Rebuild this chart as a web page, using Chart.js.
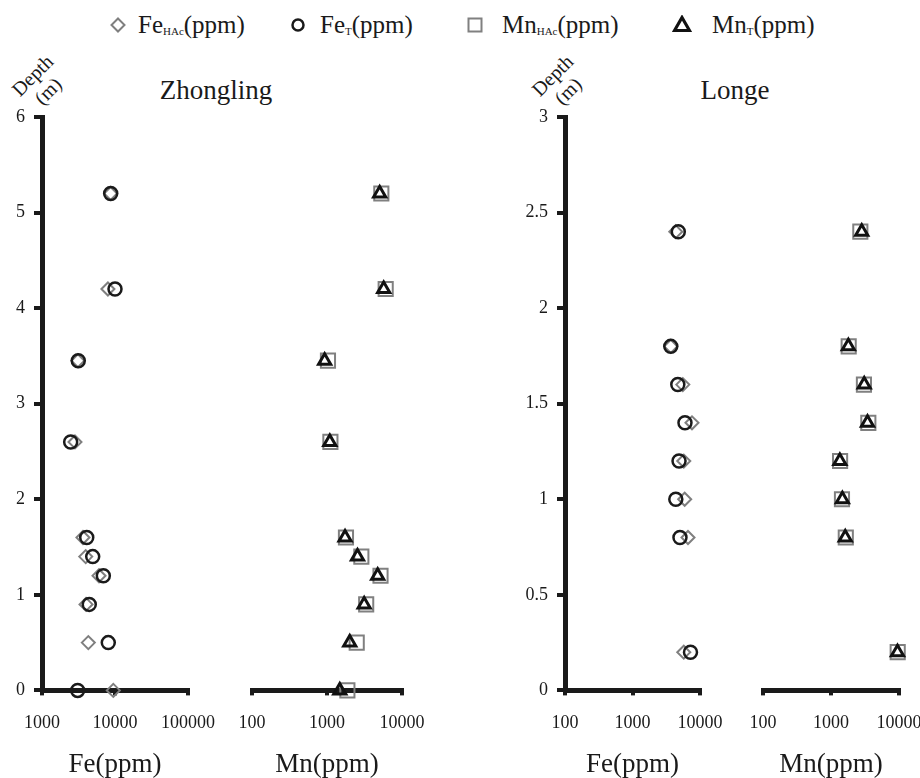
<!DOCTYPE html>
<html>
<head>
<meta charset="utf-8">
<script src="https://cdn.jsdelivr.net/npm/chart.js"></script>
<style>
  html, body { margin: 0; padding: 0; background: #fff; overflow: hidden; }
  body { width: 920px; height: 778px; position: relative; font-family: "Liberation Serif", "Times New Roman", serif; color: #1a1a1a; }
  canvas { position: absolute; top: 0; }
  .lg { position: absolute; top: 12px; font-size: 25px; line-height: 25px; white-space: nowrap; }
  .lg sub { font-size: 11px; vertical-align: -2px; line-height: 0; }
  .mk { position: absolute; }
  .site { position: absolute; top: 77px; font-size: 27px; line-height: 27px; transform: translateX(-50%); white-space: nowrap; }
  .depth { position: absolute; font-size: 20px; line-height: 22px; text-align: center; white-space: nowrap;
           transform: translate(-50%, -50%) rotate(-45deg); }
</style>
</head>
<body>

<!-- legend -->
<svg class="mk" style="left:110px;top:17px" width="16" height="16"><path d="M8 1.5 L14.5 8 L8 14.5 L1.5 8 Z" fill="none" stroke="#7f7f7f" stroke-width="2"/></svg>
<div class="lg" style="left:138px">Fe<sub>HAc</sub>(ppm)</div>
<svg class="mk" style="left:290px;top:17px" width="16" height="16"><circle cx="8" cy="8" r="5.5" fill="none" stroke="#1a1a1a" stroke-width="2.5"/></svg>
<div class="lg" style="left:320px">Fe<sub>T</sub>(ppm)</div>
<svg class="mk" style="left:467px;top:17px" width="16" height="16"><rect x="1.5" y="1.5" width="13" height="13" fill="none" stroke="#808080" stroke-width="2"/></svg>
<div class="lg" style="left:502px">Mn<sub>HAc</sub>(ppm)</div>
<svg class="mk" style="left:672px;top:15px" width="20" height="18"><path d="M10 2.5 L17.5 15.5 L2.5 15.5 Z" fill="none" stroke="#111" stroke-width="3.2"/></svg>
<div class="lg" style="left:712px">Mn<sub>T</sub>(ppm)</div>

<div class="site" style="left:216px">Zhongling</div>
<div class="site" style="left:735px">Longe</div>
<div class="depth" style="left:40px;top:83px">Depth<br>(m)</div>
<div class="depth" style="left:560px;top:83px">Depth<br>(m)</div>

<canvas id="zhFe" width="220" height="778" style="left:0px"></canvas>
<canvas id="zhMn" width="215" height="778" style="left:215px"></canvas>
<canvas id="loFe" width="225" height="778" style="left:505px"></canvas>
<canvas id="loMn" width="200" height="778" style="left:730px"></canvas>

<script>
// Zhongling profile
var zhDepth = [5.2, 4.2, 3.45, 2.6, 1.6, 1.4, 1.2, 0.9, 0.5, 0];
var zhFeHAc = [8700, 8000, 3100, 2830, 3640, 3970, 6040, 4010, 4310, 9480];
var zhFeT   = [8730, 10000, 3140, 2470, 4100, 4950, 6920, 4440, 8090, 3080];
var zhMnHAc = [5300, 6060, 1030, 1110, 1790, 2870, 5170, 3330, 2490, 1870];
var zhMnT   = [5040, 5700, 930, 1090, 1740, 2550, 4740, 3130, 2010, 1480];

// Longe profile
var loDepth = [2.4, 1.8, 1.6, 1.4, 1.2, 1.0, 0.8, 0.2];
var loFeHAc = [4380, 3690, 5560, 7610, 5750, 5930, 6640, 5750];
var loFeT   = [4770, 3690, 4690, 5990, 4890, 4380, 5050, 7230];
var loMnHAc = [2700, 1820, 3050, 3540, 1360, 1450, 1650, 9570];
var loMnT   = [2830, 1800, 3080, 3440, 1350, 1470, 1620, 9500];

// axis ticks
var zhFeTicks = [1000, 10000, 100000];
var zhMnTicks = [100, 1000, 10000];
var loFeTicks = [100, 1000, 10000];
var loMnTicks = [100, 1000, 10000];
var zhDepthTicks = [0, 1, 2, 3, 4, 5, 6];
var loDepthTicks = [0, 0.5, 1, 1.5, 2, 2.5, 3];

var ink = '#1a1a1a';
var serif = '"Liberation Serif", "Times New Roman", serif';
Chart.defaults.font.family = serif;

function pts(xs, ys) {
  return xs.map(function(x, i) { return {x: x, y: ys[i]}; });
}

var marks = {
  circle:   {pointStyle: 'circle',   pointRadius: 6.5, pointBorderColor: ink,       pointBorderWidth: 2.5},
  diamond:  {pointStyle: 'rectRot',  pointRadius: 6.5, pointBorderColor: '#7f7f7f', pointBorderWidth: 2},
  triangle: {pointStyle: 'triangle', pointRadius: 7,   pointBorderColor: '#111',    pointBorderWidth: 3},
  square:   {pointStyle: 'rect',     pointRadius: 10,  pointBorderColor: '#808080', pointBorderWidth: 2}
};

function set(label, xs, ys, mark) {
  var m = marks[mark];
  return {
    label: label, data: pts(xs, ys), showLine: false, clip: false,
    pointStyle: m.pointStyle, pointRadius: m.pointRadius,
    pointBorderColor: m.pointBorderColor, pointBorderWidth: m.pointBorderWidth,
    pointBackgroundColor: 'rgba(0,0,0,0)'
  };
}

function panel(id, o) {
  var ctx = document.getElementById(id).getContext('2d');
  return new Chart(ctx, {
    type: 'scatter',
    data: {datasets: o.sets},
    options: {
      responsive: false,
      animation: false,
      events: [],
      layout: {padding: {top: 117, left: o.padLeft, right: o.padRight, bottom: 0}},
      plugins: {legend: {display: false}, tooltip: {enabled: false}},
      scales: {
        x: {
          type: 'logarithmic', min: o.xTicks[0], max: o.xTicks[o.xTicks.length - 1],
          afterBuildTicks: function(s) { s.ticks = o.xTicks.map(function(v) { return {value: v}; }); },
          // the canvas padding already leaves room for the end labels
          afterFit: function(s) { s.paddingLeft = 0; s.paddingRight = 0; },
          ticks: {font: {size: 18, lineHeight: 1.2}, color: ink, padding: 17, autoSkip: false, maxRotation: 0,
                  callback: function(v) { return String(v); }},
          grid: {drawOnChartArea: false, tickLength: 5, tickWidth: 4, tickColor: ink, lineWidth: 4, color: ink},
          border: {width: 5, color: ink},
          title: {display: true, text: o.xTitle, font: {size: 27, lineHeight: 1}, color: ink, padding: 0}
        },
        y: {
          type: 'linear', min: 0, max: o.yTicks[o.yTicks.length - 1], display: o.showY,
          afterBuildTicks: function(s) { s.ticks = o.yTicks.map(function(v) { return {value: v}; }); },
          afterFit: function(s) { s.width = o.yWidth; },
          ticks: {font: {size: 18}, color: ink, padding: 9, callback: function(v) { return String(v); }},
          grid: {drawOnChartArea: false, tickLength: 8, tickWidth: 4, tickColor: ink, lineWidth: 4, color: ink},
          border: {width: 5, color: ink}
        }
      }
    }
  });
}

// circles / triangles first so they sit on top of the HAc marks
panel('zhFe', {
  xTicks: zhFeTicks, yTicks: zhDepthTicks, xTitle: 'Fe(ppm)', showY: true, yWidth: 42, padLeft: 0, padRight: 32,
  sets: [set('FeT', zhFeT, zhDepth, 'circle'), set('FeHAc', zhFeHAc, zhDepth, 'diamond')]
});
panel('zhMn', {
  xTicks: zhMnTicks, yTicks: zhDepthTicks, xTitle: 'Mn(ppm)', showY: false, yWidth: 0, padLeft: 37, padRight: 28,
  sets: [set('MnT', zhMnT, zhDepth, 'triangle'), set('MnHAc', zhMnHAc, zhDepth, 'square')]
});
panel('loFe', {
  xTicks: loFeTicks, yTicks: loDepthTicks, xTitle: 'Fe(ppm)', showY: true, yWidth: 60, padLeft: 0, padRight: 30,
  sets: [set('FeT', loFeT, loDepth, 'circle'), set('FeHAc', loFeHAc, loDepth, 'diamond')]
});
panel('loMn', {
  xTicks: loMnTicks, yTicks: loDepthTicks, xTitle: 'Mn(ppm)', showY: false, yWidth: 0, padLeft: 33, padRight: 31,
  sets: [set('MnT', loMnT, loDepth, 'triangle'), set('MnHAc', loMnHAc, loDepth, 'square')]
});
</script>
</body>
</html>
